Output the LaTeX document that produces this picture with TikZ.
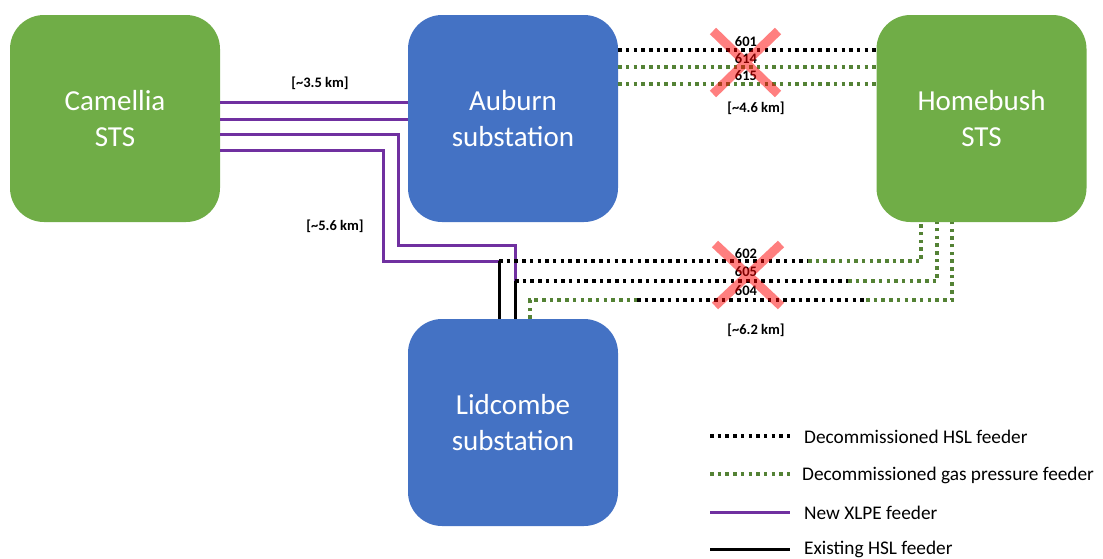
\documentclass[tikz,border=0pt]{standalone}
\usepackage{fontspec}
\setmainfont{Carlito}
\definecolor{boxgreen}{HTML}{70AD47}
\definecolor{boxblue}{HTML}{4472C4}
\definecolor{xlpe}{HTML}{7030A0}
\definecolor{gasgreen}{HTML}{548235}
\begin{document}
\begin{tikzpicture}[x=1pt,y=-1pt,
  station/.style={rounded corners=34pt, minimum width=210pt, minimum height=207pt, text=white, align=center, font=\fontsize{29}{36}\selectfont, inner sep=0pt},
  xlpeline/.style={draw=xlpe, line width=3pt},
  hslold/.style={draw=black, line width=3.5pt, dash pattern=on 3.5pt off 4.2pt},
  gasold/.style={draw=gasgreen, line width=3.5pt, dash pattern=on 3.5pt off 4.2pt},
  hslnow/.style={draw=black, line width=3pt},
  cross/.style={draw=red, line width=9pt, opacity=0.5},
  dist/.style={font=\fontsize{14.5}{16}\selectfont\bfseries, inner sep=0pt},
  num/.style={font=\fontsize{14.5}{16}\selectfont\bfseries, inner sep=0pt},
  legtext/.style={font=\fontsize{19.3}{22}\selectfont, anchor=west, inner sep=0pt}]
\useasboundingbox (0,0) rectangle (1103,558);
\node[station, fill=boxgreen] (cam) at (115,118.5) {Camellia\\STS};
\node[station, fill=boxblue] (aub) at (513,118.5) {Auburn\\substation};
\node[station, fill=boxgreen] (hom) at (981.5,118.5) {Homebush\\STS};
\node[station, fill=boxblue] (lid) at (513,422.5) {Lidcombe\\substation};
% reference heights
\coordinate (r1) at (0,102);
\coordinate (r2) at (0,119);
\coordinate (r3) at (0,134);
\coordinate (r4) at (0,150);
\coordinate (t1) at (0,50);
\coordinate (t2) at (0,67);
\coordinate (t3) at (0,84);
% XLPE feeders
\draw[xlpeline] (cam.east |- r1) -- (aub.west |- r1);
\draw[xlpeline] (cam.east |- r2) -- (aub.west |- r2);
\coordinate (j1) at (515,281);
\coordinate (j2) at (499,261);
\draw[xlpeline] (cam.east |- r3) -- (398,134) -- (398,245) -- (515,245) -- (j1);
\draw[xlpeline] (cam.east |- r4) -- (383,150) -- (383,261) -- (j2);
% existing HSL feeders
\draw[hslnow] (j2) -- (j2 |- lid.north);
\draw[hslnow] (j1) -- (j1 |- lid.north);
% top decommissioned feeders
\draw[hslold] (aub.east |- t1) -- (hom.west |- t1);
\draw[gasold] (aub.east |- t2) -- (hom.west |- t2);
\draw[gasold] (aub.east |- t3) -- (hom.west |- t3);
% bottom decommissioned feeders
\coordinate (c1) at (921,261);
\coordinate (c2) at (937,281);
\coordinate (c3) at (952,300);
\coordinate (c4) at (530,300);
\draw[hslold] (j2) -- (808,261);
\draw[gasold] (808,261) -- (c1) -- (c1 |- hom.south);
\draw[hslold] (j1) -- (848,281);
\draw[gasold] (848,281) -- (c2) -- (c2 |- hom.south);
\draw[gasold] (c4 |- lid.north) -- (c4) -- (637,300);
\draw[hslold] (637,300) -- (866,300);
\draw[gasold] (866,300) -- (c3) -- (c3 |- hom.south);
% labels
\node[num] (n601) at (746,42) {601};
\node[num] (n614) at (746,59) {614};
\node[num] (n615) at (746,76) {615};
\node[num] (n602) at (746,254) {602};
\node[num] (n605) at (746,272) {605};
\node[num] (n604) at (746,291) {604};
\draw[cross] (713,31) -- (778,94) (778,31) -- (713,94);
\draw[cross] (715,244) -- (781,306) (781,244) -- (715,306);
\node[dist] (d35) at (320,83) {[\textasciitilde3.5 km]};
\node[dist] (d46) at (756,108) {[\textasciitilde4.6 km]};
\node[dist] (d56) at (335,226) {[\textasciitilde5.6 km]};
\node[dist] (d62) at (756,330) {[\textasciitilde6.2 km]};
% legend
\coordinate (la1) at (710,436); \coordinate (lb1) at (790,436);
\coordinate (la2) at (710,474); \coordinate (lb2) at (790,474);
\coordinate (la3) at (710,512); \coordinate (lb3) at (790,512);
\coordinate (la4) at (710,549); \coordinate (lb4) at (790,549);
\draw[hslold] (la1) -- (lb1);
\draw[gasold] (la2) -- (lb2);
\draw[xlpeline] (la3) -- (lb3);
\draw[hslnow] (la4) -- (lb4);
\node[legtext] (l1) at (804,437) {Decommissioned HSL feeder};
\node[legtext] (l2) at (802,475) {Decommissioned gas pressure feeder};
\node[legtext] (l3) at (804,513) {New XLPE feeder};
\node[legtext] (l4) at (804,549) {Existing HSL feeder};
\end{tikzpicture}
\end{document}
